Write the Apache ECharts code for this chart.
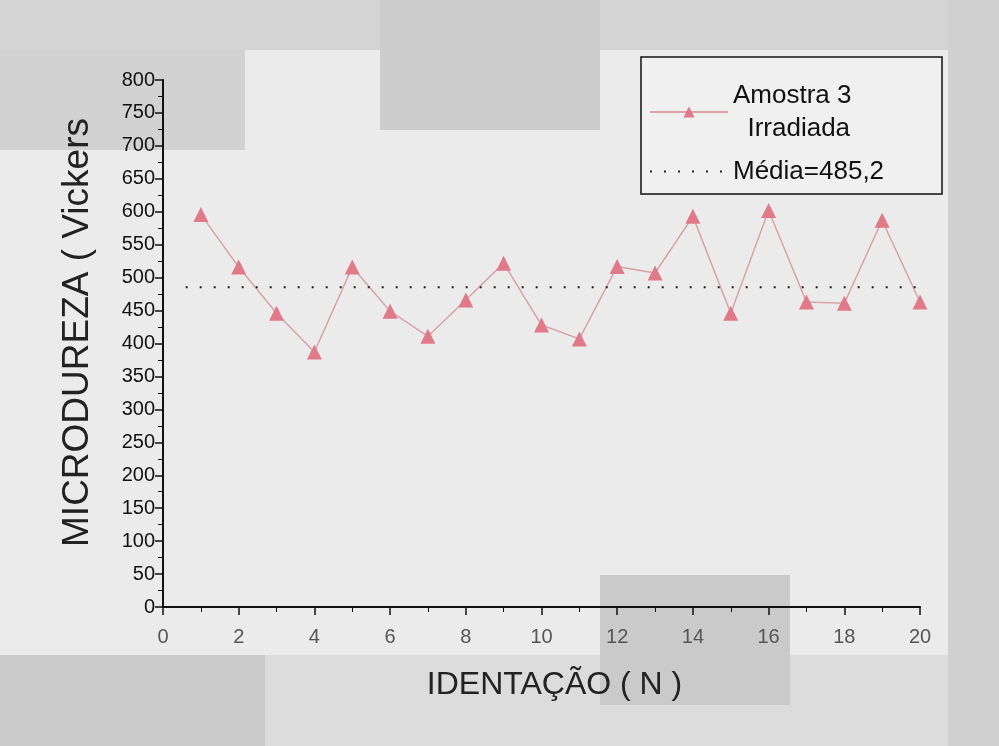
<!DOCTYPE html>
<html>
<head>
<meta charset="utf-8">
<script src="https://cdn.jsdelivr.net/npm/echarts@6/dist/echarts.min.js"></script>
<style>html,body{margin:0;padding:0;background:#e9e9e9;}#c{width:999px;height:746px;}</style>
</head>
<body>
<div id="c"></div>
<script>
const indentations = [1,2,3,4,5,6,7,8,9,10,11,12,13,14,15,16,17,18,19,20];
const microhardness = [596,516,446,387,516,449,411,466,522,428,407,517,507,593,446,602,463,461,587,463];
const meanValue = 485.2;
const meanRange = [0.6, 20];
const yTicks = {min: 0, max: 800, interval: 50};
const xTicks = {min: 0, max: 20, interval: 2};
const seriesName = 'Amostra 3\nIrradiada';
const meanName = 'Média=485,2';

const chart = echarts.init(document.getElementById('c'));
const font = 'Liberation Sans, Arial, sans-serif';
chart.setOption({
  backgroundColor: '#ebebeb',
  animation: false,
  graphic: [
    {type:'rect', z:-10, shape:{x:0,y:0,width:999,height:50}, style:{fill:'#d4d4d4'}},
    {type:'rect', z:-10, shape:{x:0,y:50,width:245,height:100}, style:{fill:'#d2d2d2'}},
    {type:'rect', z:-10, shape:{x:380,y:0,width:220,height:130}, style:{fill:'#cdcdcd'}},
    {type:'rect', z:-10, shape:{x:948,y:0,width:51,height:746}, style:{fill:'#d0d0d0'}},
    {type:'rect', z:-10, shape:{x:0,y:655,width:265,height:91}, style:{fill:'#cbcbcb'}},
    {type:'rect', z:-10, shape:{x:265,y:655,width:683,height:91}, style:{fill:'#dcdcdc'}},
    {type:'rect', z:-10, shape:{x:600,y:575,width:190,height:130}, style:{fill:'#cacaca'}}
  ],
  grid: {left: 163, right: 79, top: 80, bottom: 139},
  legend: {
    left: 641, top: 57, orient: 'vertical',
    backgroundColor: '#f0f0f0',
    borderColor: '#111', borderWidth: 1.5,
    padding: [22, 4, 6, 8],
    itemGap: 10, itemWidth: 78, itemHeight: 14,
    formatter: name => name.replace('\n', '\n  '),
    textStyle: {fontFamily: font, fontSize: 26, color: '#111', lineHeight: 33, width: 205},
    data: [seriesName, {name: meanName, itemStyle: {opacity: 0}}]
  },
  xAxis: {
    type: 'value', min: xTicks.min, max: xTicks.max, interval: xTicks.interval,
    name: 'IDENTAÇÃO ( N )', nameLocation: 'middle', nameGap: 62,
    nameTextStyle: {fontFamily: font, fontSize: 32, color: '#222', padding: [0, 0, 0, 26]},
    axisLine: {lineStyle: {color: '#111', width: 2}},
    axisTick: {length: 8, lineStyle: {color: '#111', width: 1.5}},
    minorTick: {show: true, splitNumber: 2, length: 5, lineStyle: {color: '#111'}},
    splitLine: {show: false},
    axisLabel: {fontFamily: font, fontSize: 20, color: '#555', margin: 20}
  },
  yAxis: {
    type: 'value', min: yTicks.min, max: yTicks.max, interval: yTicks.interval,
    name: 'MICRODUREZA ( Vickers', nameLocation: 'middle', nameGap: 67,
    nameTextStyle: {fontFamily: font, fontSize: 37, color: '#222', padding: [0, 0, 0, 22]},
    axisLine: {show: true, lineStyle: {color: '#111', width: 2}},
    axisTick: {show: true, length: 8, lineStyle: {color: '#111', width: 1.5}},
    minorTick: {show: true, splitNumber: 2, length: 5, lineStyle: {color: '#111'}},
    splitLine: {show: false},
    axisLabel: {fontFamily: font, fontSize: 20, color: '#111', margin: 8}
  },
  series: [
    {
      name: seriesName, type: 'line',
      data: indentations.map((x, i) => [x, microhardness[i]]),
      symbol: 'triangle', symbolSize: 15,
      itemStyle: {color: '#e07a88'},
      lineStyle: {color: '#d9a2a8', width: 1.5}
    },
    {
      name: meanName, type: 'line',
      data: meanRange.map(x => [x, meanValue]),
      symbol: 'none',
      itemStyle: {color: '#222'},
      lineStyle: {color: '#222', width: 2, type: [2, 12]}
    }
  ]
});
</script>
</body>
</html>
